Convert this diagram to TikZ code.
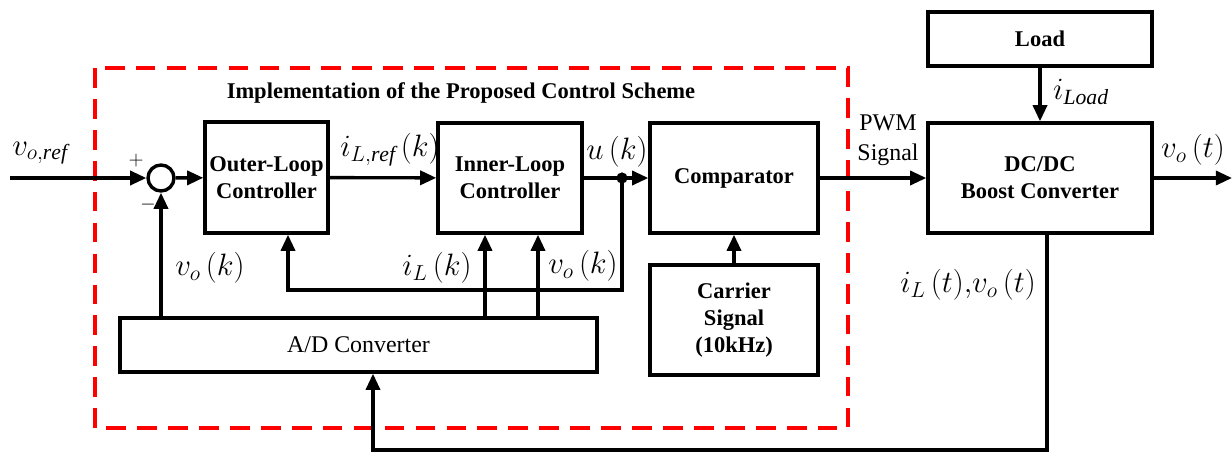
\RequirePackage{fix-cm}
\documentclass[tikz,border=0pt]{standalone}
\usepackage{amsmath}
\usepackage{fontspec}
\setmainfont{Liberation Serif}
\usetikzlibrary{arrows.meta}

\begin{document}
\begin{tikzpicture}[x=0.025cm, y=-0.025cm, line width=2.4pt,
  main/.style = {draw, rectangle, align=center, inner sep=0pt, font=\fontsize{16}{19}\selectfont\bfseries},
  sig/.style = {-{Triangle[length=11.5pt,width=10pt]}},
  lab/.style = {font=\fontsize{22}{24}\selectfont, inner sep=0pt}]
\useasboundingbox (0,0) rectangle (1232,456);
\draw[red, line width=2.2pt, dash pattern=on 14pt off 8pt] (95,68) rectangle (848,428);
\node[font=\fontsize{16}{19}\selectfont\bfseries] (title) at (461,93) {Implementation of the Proposed Control Scheme};

\node[draw, circle, minimum size=0.65cm, inner sep=0pt] (sum) at (161,178) {};
\node[main, minimum width=3.075cm, minimum height=2.775cm] (outer) at (266.5,177.5) {Outer-Loop\\Controller};
\node[main, minimum width=3.6cm, minimum height=2.75cm] (inner) at (510,178) {Inner-Loop\\Controller};
\node[main, minimum width=4.2cm, minimum height=2.75cm] (comp) at (734,178) {Comparator};
\node[main, minimum width=4.2cm, minimum height=2.75cm] (carrier) at (734,320) {Carrier\\Signal\\(10kHz)};
\node[main, minimum width=11.925cm, minimum height=1.35cm, font=\fontsize{17}{19}\selectfont] (ad) at (358.5,345) {A/D Converter};
\node[main, minimum width=5.6cm, minimum height=1.35cm] (load) at (1040,39) {Load};
\node[main, minimum width=5.6cm, minimum height=2.75cm] (boost) at (1040,178) {DC/DC\\Boost Converter};

\coordinate (in) at (10,178);
\coordinate (out) at (1232,178);
\coordinate (fb) at (288,290);
\coordinate (bt) at (373,450);
\fill (622,178) circle (4pt) coordinate (j);

% forward path
\draw[sig] (in) -- (sum);
\draw[sig] (sum) -- (outer);
\draw[sig] (outer) -- (inner);
\draw[sig] (inner) -- (comp);
\draw[sig] (comp) -- (boost);
\draw[sig] (boost) -- (out);
\draw[sig] (load) -- (boost);
\draw[sig] (carrier) -- (comp);

% feedback
\draw[sig] (sum |- ad.north) -- (sum.south);
\draw[sig] ([xshift=-0.625cm]inner.south |- ad.north) -- ([xshift=-0.625cm]inner.south);
\draw[sig] ([xshift=0.7cm]inner.south |- ad.north) -- ([xshift=0.7cm]inner.south);
\draw[sig] (j) |- (fb) -- (fb |- outer.south);
\draw[sig] ([xshift=0.175cm]boost.south) |- (bt) -- (bt |- ad.south);

% labels
\node[lab] at (40,153) {$v_{o,\mathit{ref}}$};
\node[font=\fontsize{14}{16}\selectfont] at (136,161) {$+$};
\node[font=\fontsize{14}{16}\selectfont] at (148,205) {$-$};
\node[lab] at (390,150) {$i_{L,\mathit{ref}}\left(k\right)$};
\node[lab] at (617,152) {$u\left(k\right)$};
\node[lab] at (210,268) {$v_o\left(k\right)$};
\node[lab] at (437,268) {$i_L\left(k\right)$};
\node[lab] at (583,266) {$v_o\left(k\right)$};
\node[align=center, font=\fontsize{17}{21}\selectfont] at (888,140) {PWM\\Signal};
\node[lab] at (1081,92) {$i_{\mathit{Load}}$};
\node[lab] at (1193,150) {$v_o\left(t\right)$};
\node[lab] at (968,285) {$i_L\left(t\right)\!{,}v_o\left(t\right)$};
\end{tikzpicture}
\end{document}
